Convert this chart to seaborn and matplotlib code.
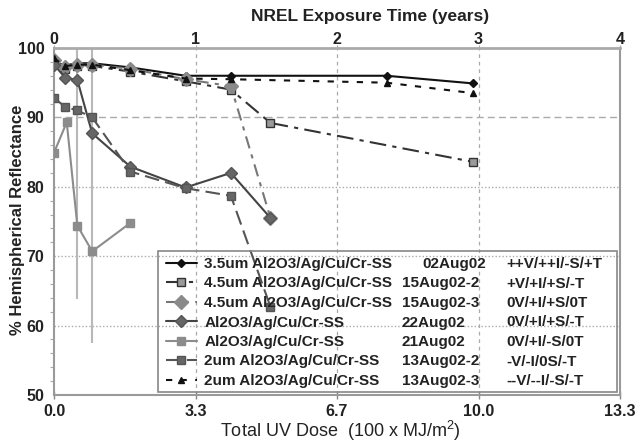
import numpy as np
import pandas as pd
import matplotlib
matplotlib.use("Agg")
import matplotlib.pyplot as plt
import seaborn as sns
from matplotlib.lines import Line2D
from matplotlib.patches import Rectangle

# =======================
# Data (x in NREL exposure years, y in % hemispherical reflectance)
# =======================
yrs_top = [0, 0.08, 0.165, 0.27, 0.54, 0.93, 1.25, 2.35, 2.96]
s1_refl = [98.0, 97.5, 97.8, 97.8, 97.2, 96.0, 96.0, 96.0, 94.9]   # 3.5um 02Aug02
s7_refl = [98.5, 97.4, 97.6, 97.6, 96.8, 95.6, 95.5, 95.0, 93.5]   # 2um 13Aug02-3

yrs_s2 = [0, 0.08, 0.165, 0.27, 0.54, 0.93, 1.25, 1.53, 2.96]
s2_refl = [97.8, 97.0, 97.4, 97.4, 96.6, 95.2, 94.0, 89.2, 83.6]   # 4.5um 15Aug02-2

yrs_s3 = [0, 0.08, 0.165, 0.27, 0.54, 0.93, 1.25, 1.53]
s3_refl = [98.2, 97.2, 97.6, 97.6, 97.0, 95.5, 94.5, 75.5]         # 4.5um 15Aug02-3

yrs_s4 = [0, 0.08, 0.165, 0.27, 0.54, 0.93, 1.25, 1.53]
s4_refl = [97.6, 95.7, 95.4, 87.7, 82.9, 79.9, 82.0, 75.5]         # Al2O3 22Aug02

yrs_s5 = [0, 0.09, 0.165, 0.27, 0.54]
s5_refl = [84.9, 89.3, 74.4, 70.7, 74.8]                           # Al2O3 21Aug02
s5_err_lo = [0, 0, 10.5, 13.2, 0]
s5_err_hi = [0, 0, 25.6, 29.3, 0]

yrs_s6 = [0, 0.08, 0.165, 0.27, 0.54, 0.93, 1.25, 1.53]
s6_refl = [92.8, 91.5, 91.0, 90.0, 82.2, 79.8, 78.7, 62.7]         # 2um 13Aug02-2

names = ["3.5um Al2O3/Ag/Cu/Cr-SS", "4.5um Al2O3/Ag/Cu/Cr-SS", "4.5um Al2O3/Ag/Cu/Cr-SS",
         "Al2O3/Ag/Cu/Cr-SS", "Al2O3/Ag/Cu/Cr-SS", "2um Al2O3/Ag/Cu/Cr-SS",
         "2um Al2O3/Ag/Cu/Cr-SS"]
dates = ["02Aug02", "15Aug02-2", "15Aug02-3", "22Aug02", "21Aug02", "13Aug02-2", "13Aug02-3"]
codes = ["++V/++I/-S/+T", "+V/+I/+S/-T", "0V/+I/+S/0T", "0V/+I/+S/-T",
         "0V/+I/-S/0T", "-V/-I/0S/-T", "--V/--I/-S/-T"]

year_ticks = [0, 1, 2, 3, 4]
dose_labels = ["0.0", "3.3", "6.7", "10.0", "13.3"]

# =======================
# Styles
# =======================
sns.set_style("white")
plt.rcParams["font.family"] = ["Liberation Sans", "DejaVu Sans"]

styles = [
    dict(color="#111111", ls="-", marker="D", ms=4, mfc="#111111", mec="#111111"),
    dict(color="#333333", ls=(0, (8, 3, 2, 3)), marker="s", ms=6, mfc="#9a9a9a", mec="#333333"),
    dict(color="#777777", ls=(0, (6, 3, 2, 3)), marker="D", ms=7, mfc="#8a8a8a", mec="#8a8a8a"),
    dict(color="#444444", ls="-", marker="D", ms=6, mfc="#666666", mec="#555555"),
    dict(color="#8c8c8c", ls="-", marker="s", ms=6, mfc="#8c8c8c", mec="#8c8c8c"),
    dict(color="#555555", ls=(0, (7, 3)), marker="s", ms=6, mfc="#666666", mec="#555555"),
    dict(color="#111111", ls=(0, (3, 4)), marker="^", ms=5, mfc="#111111", mec="#111111"),
]
series = [(yrs_top, s1_refl), (yrs_s2, s2_refl), (yrs_s3, s3_refl), (yrs_s4, s4_refl),
          (yrs_s5, s5_refl), (yrs_s6, s6_refl), (yrs_top, s7_refl)]

W, H = 635, 446
fig, ax = plt.subplots(figsize=(6.35, 4.46), dpi=100)
fig.subplots_adjust(left=54 / W, right=620 / W, top=1 - 48 / H, bottom=1 - 395 / H)

# grid
for yv in [60, 70, 80]:
    ax.axhline(yv, color="#aaaaaa", lw=1, ls=(0, (1, 1.5)), zorder=0)
ax.axhline(90, color="#aaaaaa", lw=1, ls=(0, (5, 3)), zorder=0)
for xv in [1, 2, 3]:
    ax.axvline(xv, color="#aaaaaa", lw=0.9, ls=(0, (3, 3)), zorder=0)

# error bars
ax.errorbar(yrs_s5, s5_refl, yerr=[s5_err_lo, s5_err_hi], fmt="none",
            ecolor="#b8b8b8", elinewidth=1.5, capsize=0, zorder=1)

handles = []
for (xs, ys), st in zip(series, styles):
    df = pd.DataFrame({"yr": xs, "refl": ys})
    sns.lineplot(data=df, x="yr", y="refl", ax=ax, color=st["color"], linestyle=st["ls"],
                 lw=1.5, marker=st["marker"], markersize=st["ms"],
                 markerfacecolor=st["mfc"], markeredgecolor=st["mec"], markeredgewidth=1,
                 zorder=3)
    handles.append(Line2D([], [], color=st["color"], ls=st["ls"], lw=1.5, marker=st["marker"],
                          ms=st["ms"], mfc=st["mfc"], mec=st["mec"]))

ax.set_xlim(0, 4)
ax.set_ylim(50, 100)
ax.set_xticks(year_ticks)
ax.set_xticklabels(dose_labels, fontsize=11.5, fontweight="bold", color="#222222")
ax.set_yticks([50, 60, 70, 80, 90, 100])
ax.set_yticks(np.arange(50, 101, 2), minor=True)
ax.tick_params(axis="y", which="major", labelsize=11.5, direction="out", length=5,
               width=1, color="#888888", labelcolor="#222222", pad=2)
ax.tick_params(axis="y", which="minor", direction="out", length=3, width=0.8, color="#aaaaaa", left=True)
ax.tick_params(axis="x", direction="inout", length=6, width=1, color="#888888", bottom=True)
for lab in ax.get_yticklabels():
    lab.set_fontweight("bold")

for sp in ax.spines.values():
    sp.set_color("#9a9a9a")
    sp.set_linewidth(1.5)
ax.spines["top"].set_color("#aaaaaa")
ax.spines["top"].set_linewidth(2)

top = ax.secondary_xaxis("top")
top.set_xticks(year_ticks)
top.set_xticklabels([str(t) for t in year_ticks], fontsize=11.5, fontweight="bold", color="#222222")
top.tick_params(length=2, color="#aaaaaa", pad=-1)
top.spines["top"].set_visible(False)

ax.set_xlabel("")
ax.set_ylabel("")
fig.text(370 / W, 1 - 17 / H, "NREL Exposure Time (years)", fontsize=12.5, fontweight="bold",
         color="#222222", ha="center", va="center")
fig.text(340 / W, 1 - 431 / H, "Total UV Dose  (100 x MJ/m$^\\mathregular{2}$)", fontsize=13,
         color="#222222", ha="center", va="center")
fig.text(18 / W, 1 - 220 / H, "% Hemispherical Reflectance", fontsize=12, fontweight="bold",
         color="#222222", ha="center", va="center", rotation=90)

# legend (transparent, frame drawn separately)
leg = fig.legend(handles, names, loc="upper left", bbox_to_anchor=(166 / W, 1 - 257 / H),
                 bbox_transform=fig.transFigure, frameon=False, fontsize=11,
                 handlelength=2.0, handletextpad=0.5, labelspacing=0.36, borderpad=0,
                 borderaxespad=0)
for t in leg.get_texts():
    t.set_fontweight("bold")
    t.set_color("#222222")

fig.canvas.draw()
renderer = fig.canvas.get_renderer()
for i, t in enumerate(leg.get_texts()):
    bb = t.get_window_extent(renderer)
    yc = (bb.y0 + bb.y1) / 2 / fig.bbox.height
    dx = 422 if i == 0 else 402
    fig.text(dx / W, yc, dates[i], fontsize=11, fontweight="bold", color="#222222", va="center")
    fig.text(506 / W, yc, codes[i], fontsize=11, fontweight="bold", color="#222222", va="center")

fig.patches.append(Rectangle((158 / W, 1 - 392 / H), (617 - 158) / W, (392 - 251) / H,
                             transform=fig.transFigure, fill=False, ec="#888888", lw=1.2))

fig.savefig("out.png", dpi=100)
